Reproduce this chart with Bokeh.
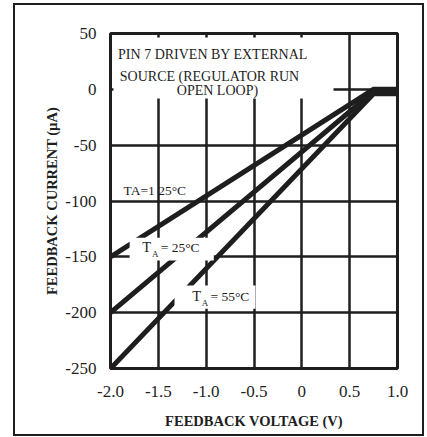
from bokeh.plotting import figure
from bokeh.models import FixedTicker, Label, BoxAnnotation, InlineStyleSheet
from bokeh.embed import file_html
from bokeh.resources import INLINE

# ---- data ----
voltage = [-2.0, 0.75, 1.0]
current_125c = [-150, 0, 0]
current_25c = [-200, -2, -2]
current_55c = [-250, -4, -4]

x_ticks = [-2.0, -1.5, -1.0, -0.5, 0.0, 0.5, 1.0]
x_tick_labels = ["-2.0", "-1.5", "-1.0", "-0.5", "0", "0.5", "1.0"]
y_ticks = [-250, -200, -150, -100, -50, 0, 50]
y_tick_labels = ["-250", "-200", "-150", "-100", "-50", "0", "50"]

FONT = "Liberation Serif"
INK = "#1e1e1e"

p = figure(frame_width=287, frame_height=335,
           x_range=(-2.0, 1.0), y_range=(-250, 50),
           output_backend="svg", toolbar_location=None,
           min_border_left=110, min_border_right=30,
           min_border_top=33, min_border_bottom=69,
           background_fill_color="white", border_fill_color="white")

p.outline_line_color = INK
p.outline_line_width = 3

# axes
p.xaxis.ticker = FixedTicker(ticks=x_ticks)
p.yaxis.ticker = FixedTicker(ticks=y_ticks)
p.xaxis.major_label_overrides = dict(zip(x_ticks, x_tick_labels))
p.yaxis.major_label_overrides = dict(zip(y_ticks, y_tick_labels))
for ax in (p.xaxis[0], p.yaxis[0]):
    ax.axis_line_color = None
    ax.major_tick_line_color = None
    ax.minor_tick_line_color = None
    ax.major_tick_in = 0
    ax.major_tick_out = 0
    ax.major_label_text_font = FONT
    ax.major_label_text_font_size = "17px"
    ax.major_label_text_color = INK
    ax.axis_label_text_font = FONT
    ax.axis_label_text_font_style = "bold"
    ax.axis_label_text_font_size = "14.5px"
    ax.axis_label_text_color = INK

p.xaxis.axis_label = "FEEDBACK VOLTAGE (V)"
p.yaxis.axis_label = "FEEDBACK CURRENT (µA)"
p.xaxis.major_label_standoff = 17
p.xaxis.axis_label_standoff = 13
p.yaxis.major_label_standoff = 14
p.yaxis.axis_label_standoff = 2

# grid
p.xgrid.ticker = FixedTicker(ticks=x_ticks)
p.ygrid.ticker = FixedTicker(ticks=y_ticks)
for g in (p.xgrid[0], p.ygrid[0]):
    g.grid_line_color = INK
    g.grid_line_width = 2.5
    g.grid_line_alpha = 1.0

# curves
for cur in (current_125c, current_25c, current_55c):
    p.line(voltage, cur, line_color=INK, line_width=5, line_join="miter")

# white label boxes (cover grid and curves)
def white_box(l, r, t, b):
    p.add_layout(BoxAnnotation(left=l, right=r, top=t, bottom=b,
                               fill_color="white", fill_alpha=1.0,
                               line_color=None))

white_box(-1.969, 0.331, 46.4, -8.2)
white_box(-1.80, -0.92, -132.9, -153.3)
white_box(-1.331, -0.484, -175.7, -196.5)

def label(x, y, text, size="14px", align="left"):
    p.add_layout(Label(x=x, y=y, text=text, text_font=FONT,
                       text_font_size=size, text_color=INK,
                       text_align=align, text_baseline="alphabetic"))

label(-0.929, 31.0, "PIN 7 DRIVEN BY EXTERNAL", align="center")
label(-0.965, 11.7, "SOURCE (REGULATOR RUN", align="center")
label(-0.882, -0.8, "OPEN LOOP)", align="center")

label(-1.864, -91.0, "TA=1 25°C", size="13.5px")

label(-1.669, -141.5, "T", size="14.5px")
label(-1.565, -147.5, "A", size="9px")
label(-1.475, -141.5, "= 25°C", size="13.5px")

label(-1.146, -185.5, "T", size="14.5px")
label(-1.045, -191.5, "A", size="9px")
label(-0.955, -185.5, "= 55°C", size="13.5px")

# outer frame of the whole chart
p.stylesheets = [InlineStyleSheet(css=(
    ":host { position: relative; }"
    ":host::after { content: ''; position: absolute; left: 13px; top: 3px;"
    " width: 411px; height: 433px; border: 2px solid #1e1e1e;"
    " box-sizing: border-box; pointer-events: none; z-index: 10; }"
))]

open("out.html", "w").write(file_html(p, INLINE))
